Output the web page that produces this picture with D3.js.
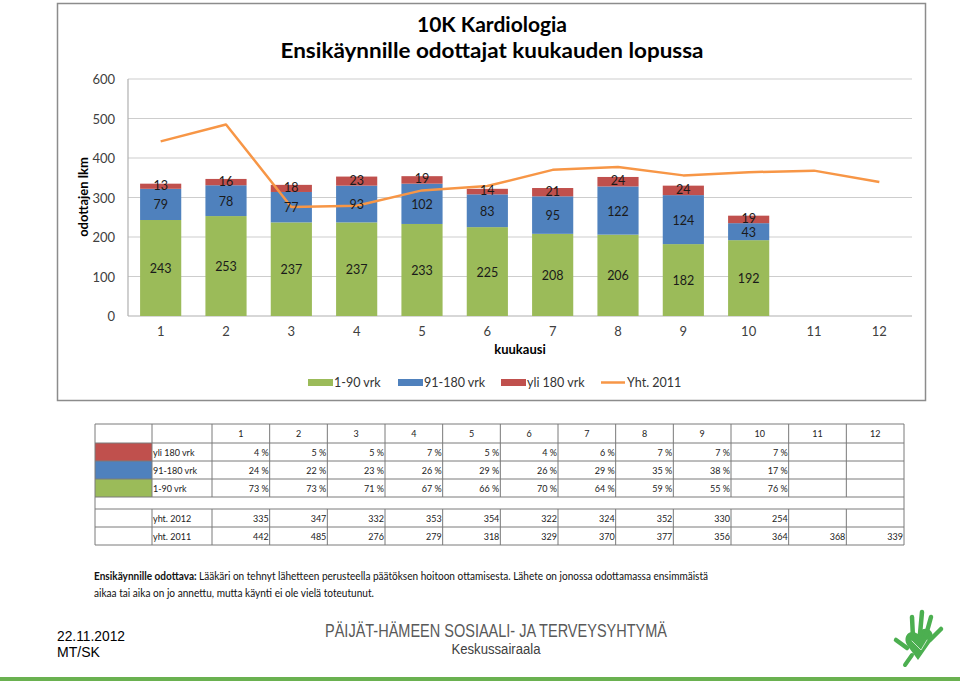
<!DOCTYPE html>
<html><head><meta charset="utf-8">
<script src="https://cdn.jsdelivr.net/npm/d3@7"></script>
<style>
html,body{margin:0;padding:0;background:#fff;}
svg{display:block;}
</style></head>
<body>
<svg id="c" width="960" height="681"></svg>
<script>
const months = ["1","2","3","4","5","6","7","8","9","10","11","12"];
const d1_90 = [243,253,237,237,233,225,208,206,182,192];
const d91_180 = [79,78,77,93,102,83,95,122,124,43];
const d180 = [13,16,18,23,19,14,21,24,24,19];
const yht2011 = [442,485,276,279,318,329,370,377,356,364,368,339];
const yht2012 = [335,347,332,353,354,322,324,352,330,254];
const pct180 = [4,5,5,7,5,4,6,7,7,7];
const pct91 = [24,22,23,26,29,26,29,35,38,17];
const pct1 = [73,73,71,67,66,70,64,59,55,76];
const yTicks = [0,100,200,300,400,500,600];
const seriesNames = ["1-90 vrk","91-180 vrk","yli 180 vrk","Yht. 2011"];
const colors = {g:"#9BBB59", b:"#4F81BD", r:"#C0504D", o:"#F79646"};

const F = "Lato, 'Open Sans', sans-serif";
const NF = "'Liberation Sans', Arial, sans-serif";
const svg = d3.select("#c");

// outer chart border
svg.append("rect").attr("x",57.5).attr("y",3.5).attr("width",868).attr("height",397)
  .attr("fill","#fff").attr("stroke","#8c8c8c").attr("stroke-width",1.5);

// title
svg.append("text").attr("x",492).attr("y",32).attr("text-anchor","middle")
  .attr("font-family",F).attr("font-weight","bold").attr("font-size",21).attr("fill","#000")
  .text("10K Kardiologia");
svg.append("text").attr("x",492).attr("y",58).attr("text-anchor","middle")
  .attr("font-family",F).attr("font-weight","bold").attr("font-size",21).attr("fill","#000")
  .attr("textLength",423).attr("lengthAdjust","spacingAndGlyphs")
  .text("Ensikäynnille odottajat kuukauden lopussa");

const x = d3.scaleBand().domain(months).range([128,912]).paddingInner(0.37).paddingOuter(0.185);
const y = d3.scaleLinear().domain([0,600]).range([316,79]);

// gridlines
svg.append("g").selectAll("line").data(yTicks.filter(t=>t>0)).join("line")
  .attr("x1",128).attr("x2",912).attr("y1",d=>y(d)).attr("y2",d=>y(d))
  .attr("stroke","#cdcdcd").attr("stroke-width",1.2);
// axis lines
svg.append("line").attr("x1",128).attr("x2",128).attr("y1",y(600)).attr("y2",y(0)).attr("stroke","#b0b0b0").attr("stroke-width",1.2);
svg.append("line").attr("x1",128).attr("x2",912).attr("y1",y(0)).attr("y2",y(0)).attr("stroke","#b0b0b0").attr("stroke-width",1.2);

// y tick labels
svg.append("g").selectAll("text").data(yTicks).join("text")
  .attr("x",115).attr("y",d=>y(d)+5).attr("text-anchor","end")
  .attr("font-family",F).attr("font-size",13).attr("fill","#404040").text(d=>d);
// x tick labels
svg.append("g").selectAll("text").data(months).join("text")
  .attr("x",d=>x(d)+x.bandwidth()/2).attr("y",336).attr("text-anchor","middle")
  .attr("font-family",F).attr("font-size",13).attr("fill","#404040").text(d=>d);

// axis titles
svg.append("text").attr("transform","translate(88,197) rotate(-90)").attr("text-anchor","middle")
  .attr("font-family",F).attr("font-weight","bold").attr("font-size",13).text("odottajen lkm");
svg.append("text").attr("x",520).attr("y",354).attr("text-anchor","middle")
  .attr("font-family",F).attr("font-weight","bold").attr("font-size",13).text("kuukausi");

// stacked bars
const rows = d1_90.map((v,i)=>({m:months[i], a:v, b:d91_180[i], c:d180[i]}));
const stack = d3.stack().keys(["a","b","c"])(rows);
const fillFor = {a:colors.g, b:colors.b, c:colors.r};
const gBars = svg.append("g");
stack.forEach(layer=>{
  gBars.append("g").selectAll("rect").data(layer).join("rect")
    .attr("x",d=>x(d.data.m)).attr("width",x.bandwidth())
    .attr("y",d=>y(d[1])).attr("height",d=>y(d[0])-y(d[1]))
    .attr("fill",fillFor[layer.key]);
});

// line
const line = d3.line().x((d,i)=>x(months[i])+x.bandwidth()/2).y(d=>y(d));
svg.append("path").datum(yht2011).attr("d",line).attr("fill","none")
  .attr("stroke",colors.o).attr("stroke-width",2.5).attr("stroke-linejoin","round");

// data labels
stack.forEach(layer=>{
  svg.append("g").selectAll("text").data(layer).join("text")
    .attr("x",d=>x(d.data.m)+x.bandwidth()/2)
    .attr("y",d=>y((d[0]+d[1])/2)+(layer.key==="c"?3.5:5))
    .attr("text-anchor","middle").attr("font-family",F).attr("font-size",12.5).attr("fill","#1a1a1a")
    .text(d=>d.data[layer.key]);
});

// legend
const leg = [
  {n:seriesNames[0], c:colors.g, x:308, t:"rect"},
  {n:seriesNames[1], c:colors.b, x:398, t:"rect"},
  {n:seriesNames[2], c:colors.r, x:501, t:"rect"},
  {n:seriesNames[3], c:colors.o, x:601, t:"line"}
];
const gl = svg.append("g");
leg.forEach(l=>{
  if(l.t==="rect") gl.append("rect").attr("x",l.x).attr("y",379).attr("width",25).attr("height",7).attr("fill",l.c);
  else gl.append("line").attr("x1",l.x).attr("x2",l.x+24).attr("y1",382.5).attr("y2",382.5).attr("stroke",l.c).attr("stroke-width",2.5);
  gl.append("text").attr("x",l.x+26).attr("y",387).attr("font-family",F).attr("font-size",12.5).attr("fill","#333").text(l.n);
});

// table
const tb = svg.append("g").attr("font-family",F).attr("font-size",9).attr("fill","#222");
const rowY = [424,443,461,479,497,509,527,545];
const cw = (904-212)/12;
const monthX = months.map((m,i)=>212+cw*i);
const lc = "#7a7a7a";
[colors.r, colors.b, colors.g].forEach((c,i)=>{
  tb.append("rect").attr("x",95).attr("y",rowY[i+1]).attr("width",57).attr("height",rowY[i+2]-rowY[i+1]).attr("fill",c);
});
rowY.forEach(yy=>tb.append("line").attr("x1",95).attr("x2",904).attr("y1",yy).attr("y2",yy).attr("stroke",lc));
const vx = [95,152,212].concat(months.map((m,i)=>212+cw*(i+1)));
[[0,4],[5,7]].forEach(([a,b])=>{
  vx.forEach(xx=>{
    tb.append("line").attr("x1",xx).attr("x2",xx).attr("y1",rowY[a]).attr("y2",rowY[b]).attr("stroke",lc);
  });
});
tb.append("line").attr("x1",95).attr("x2",95).attr("y1",rowY[4]).attr("y2",rowY[5]).attr("stroke",lc);
tb.append("line").attr("x1",904).attr("x2",904).attr("y1",rowY[4]).attr("y2",rowY[5]).attr("stroke",lc);
months.forEach((m,i)=>tb.append("text").attr("x",monthX[i]+cw/2).attr("y",rowY[0]+13).attr("text-anchor","middle").text(m));
const tRows = [
  {label:"yli 180 vrk", vals:pct180.map(v=>v+" %"), r:1},
  {label:"91-180 vrk", vals:pct91.map(v=>v+" %"), r:2},
  {label:"1-90 vrk", vals:pct1.map(v=>v+" %"), r:3},
  {label:"yht. 2012", vals:yht2012.map(String), r:5},
  {label:"yht. 2011", vals:yht2011.map(String), r:6}
];
tRows.forEach(row=>{
  const yy = rowY[row.r]+12.5;
  tb.append("text").attr("x",153).attr("y",yy).text(row.label);
  row.vals.forEach((v,i)=>tb.append("text").attr("x",monthX[i]+cw-1).attr("y",yy).attr("text-anchor","end").text(v));
});

// note
const note = svg.append("text").attr("x",94).attr("y",580).attr("font-family",F).attr("font-size",10.5).attr("fill","#111")
  .attr("textLength",614).attr("lengthAdjust","spacingAndGlyphs");
note.append("tspan").attr("font-weight","bold").text("Ensikäynnille odottava: ");
note.append("tspan").text("Lääkäri on tehnyt lähetteen perusteella päätöksen hoitoon ottamisesta. Lähete on jonossa odottamassa ensimmäistä");
svg.append("text").attr("x",94).attr("y",597).attr("font-family",F).attr("font-size",10.5).attr("fill","#111")
  .attr("textLength",280).attr("lengthAdjust","spacingAndGlyphs")
  .text("aikaa tai aika on jo annettu, mutta käynti ei ole vielä toteutunut.");

// footer
svg.append("text").attr("x",57).attr("y",641).attr("font-family",NF).attr("font-size",15).attr("fill","#000")
  .attr("textLength",68).attr("lengthAdjust","spacingAndGlyphs").text("22.11.2012");
svg.append("text").attr("x",57).attr("y",657).attr("font-family",NF).attr("font-size",15).attr("fill","#000")
  .attr("textLength",43).attr("lengthAdjust","spacingAndGlyphs").text("MT/SK");
svg.append("text").attr("x",496).attr("y",637).attr("text-anchor","middle").attr("font-family",NF).attr("font-size",18).attr("fill","#595959")
  .attr("textLength",342).attr("lengthAdjust","spacingAndGlyphs").text("PÄIJÄT-HÄMEEN SOSIAALI- JA TERVEYSYHTYMÄ");
svg.append("text").attr("x",496).attr("y",654).attr("text-anchor","middle").attr("font-family",NF).attr("font-size",14).attr("fill","#404040")
  .attr("textLength",89).attr("lengthAdjust","spacingAndGlyphs").text("Keskussairaala");
svg.append("rect").attr("x",0).attr("y",677).attr("width",960).attr("height",4).attr("fill","#6ab150");

// logo hand
const lg = svg.append("g").attr("fill","#4caf50").attr("stroke","#4caf50").attr("stroke-linecap","round");
lg.append("path").attr("d","M907,645 C902,636 910,628 918,634 C922,625 936,628 932,640 L918,660 Z").attr("stroke","none");
[[913,638,912,617],[920,634,922,612],[926,635,931,617],[930,640,941,629],[907,648,896,640]].forEach(f=>{
  lg.append("line").attr("x1",f[0]).attr("y1",f[1]).attr("x2",f[2]).attr("y2",f[3]).attr("stroke-width",4.5);
});
lg.append("path").attr("d","M912,655 L905,665").attr("stroke-width",4);
lg.append("path").attr("d","M912,641 L921,650 L927,640").attr("fill","none").attr("stroke","#c8e6c9").attr("stroke-width",1);
</script>
</body></html>
